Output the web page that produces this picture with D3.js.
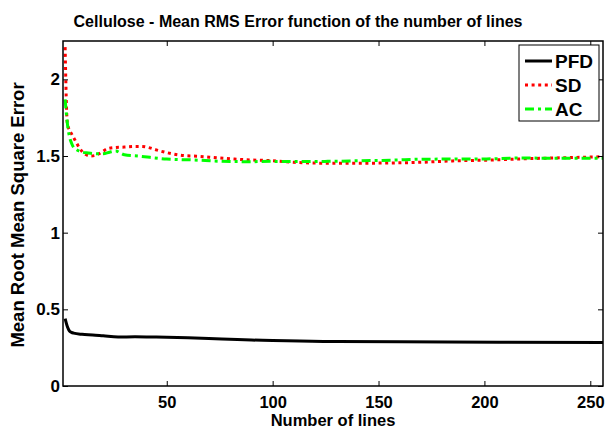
<!DOCTYPE html>
<html>
<head>
<meta charset="utf-8">
<script src="https://cdn.jsdelivr.net/npm/d3@7/dist/d3.min.js"></script>
<style>
  html, body { margin: 0; padding: 0; background: #fff; }
  svg text { font-family: "Liberation Sans", Arial, sans-serif; font-weight: bold; fill: #000; }
</style>
</head>
<body>
<svg id="chart" width="607" height="430"></svg>
<script>
// ---- data ----
const pfdX = [2, 3, 4, 5, 6, 10, 15, 20, 27, 35, 45, 60, 76, 90, 100, 124, 160, 207, 256];
const pfdY = [0.44, 0.39, 0.36, 0.35, 0.345, 0.337, 0.333, 0.327, 0.319, 0.321, 0.319, 0.314, 0.306, 0.300, 0.296, 0.290, 0.288, 0.285, 0.283];

const sdX = [2, 3, 4, 5, 6, 7, 8, 10, 12, 14, 16, 18, 20, 22, 26, 30, 35, 38, 42, 45, 50, 58, 64, 74, 82, 90, 99, 110, 125, 141, 157, 170, 185, 201, 217, 233, 256];
const sdY = [2.21, 1.72, 1.67, 1.645, 1.62, 1.595, 1.57, 1.53, 1.508, 1.500, 1.503, 1.515, 1.532, 1.548, 1.556, 1.558, 1.562, 1.562, 1.553, 1.540, 1.522, 1.503, 1.499, 1.488, 1.480, 1.474, 1.470, 1.459, 1.453, 1.453, 1.455, 1.459, 1.468, 1.473, 1.481, 1.487, 1.495];

const acX = [2, 3, 4, 5, 6, 7, 10, 13, 16, 18, 20, 23, 26, 28, 30, 37, 50, 63, 75, 89, 99, 110, 126, 141, 157, 170, 201, 217, 233, 256];
const acY = [1.87, 1.72, 1.63, 1.585, 1.556, 1.545, 1.525, 1.520, 1.515, 1.514, 1.515, 1.525, 1.532, 1.520, 1.508, 1.499, 1.480, 1.474, 1.466, 1.463, 1.465, 1.464, 1.465, 1.469, 1.473, 1.479, 1.481, 1.487, 1.485, 1.486];

const xTicks = [50, 100, 150, 200, 250];
const yTicks = [0, 0.5, 1, 1.5, 2];
const seriesNames = ["PFD", "SD", "AC"];
const titleText = "Cellulose - Mean RMS Error function of the number of lines";
const xLabelText = "Number of lines";
const yLabelText = "Mean Root Mean Square Error";

// ---- layout ----
const L = 63, R = 603, T = 41, B = 386;
const svg = d3.select("#chart");
const x = d3.scaleLinear().domain([1, 256]).range([L, R]);
const y = d3.scaleLinear().domain([0, 2.25]).range([B, T]);

svg.append("defs").append("clipPath").attr("id", "clip")
  .append("rect").attr("x", L).attr("y", T).attr("width", R - L).attr("height", B - T);

const styles = [
  { color: "#000000", dash: null, width: 3 },
  { color: "#ff0000", dash: "3,3.6", width: 3 },
  { color: "#00ff00", dash: "9,4,3,4", width: 3 }
];
const data = [
  pfdX.map((d, i) => [d, pfdY[i]]),
  sdX.map((d, i) => [d, sdY[i]]),
  acX.map((d, i) => [d, acY[i]])
];

const line = d3.line().x(d => x(d[0])).y(d => y(d[1])).curve(d3.curveMonotoneX);
const g = svg.append("g").attr("clip-path", "url(#clip)");
[0, 1, 2].forEach(i => {
  g.append("path").datum(data[i])
    .attr("fill", "none")
    .attr("stroke", styles[i].color)
    .attr("stroke-width", styles[i].width)
    .attr("stroke-dasharray", styles[i].dash)
    .attr("d", line);
});

// axes
const tickLen = 5;
const fmtY = d => d === 0 ? "0" : String(d);
const xAxisB = d3.axisBottom(x).tickValues(xTicks).tickSize(-tickLen).tickFormat(d3.format("d"));
const xAxisT = d3.axisTop(x).tickValues(xTicks).tickSize(-tickLen).tickFormat("");
const yAxisL = d3.axisLeft(y).tickValues(yTicks).tickSize(-tickLen).tickPadding(3).tickFormat(fmtY);
const yAxisR = d3.axisRight(y).tickValues(yTicks).tickSize(-tickLen).tickFormat("");

function styleAxis(sel) {
  sel.select(".domain").remove();
  sel.selectAll(".tick line").attr("stroke", "#000").attr("stroke-width", 1);
  sel.selectAll(".tick text").style("font-size", "17px").attr("fill", "#000");
}
svg.append("g").attr("transform", `translate(0,${B})`).call(xAxisB).call(styleAxis)
  .selectAll(".tick text").attr("y", 21.5).attr("dy", "0").style("font-size", "16.5px");
svg.append("g").attr("transform", `translate(0,${T})`).call(xAxisT).call(styleAxis);
svg.append("g").attr("transform", `translate(${L},0)`).call(yAxisL).call(styleAxis);
svg.append("g").attr("transform", `translate(${R},0)`).call(yAxisR).call(styleAxis);

svg.append("rect").attr("x", L).attr("y", T).attr("width", R - L).attr("height", B - T)
  .attr("fill", "none").attr("stroke", "#000").attr("stroke-width", 1.5);

// titles
svg.append("text").attr("x", 298).attr("y", 27).attr("text-anchor", "middle")
  .style("font-size", "16px").text(titleText);
svg.append("text").attr("x", (L + R) / 2).attr("y", 426).attr("text-anchor", "middle")
  .style("font-size", "16.5px").text(xLabelText);
svg.append("text").attr("transform", `translate(24,${(T + B) / 2 + 1.5}) rotate(-90)`).attr("text-anchor", "middle")
  .style("font-size", "18.5px").text(yLabelText);

// legend
const lg = svg.append("g");
lg.append("rect").attr("x", 519).attr("y", 45).attr("width", 80).attr("height", 76)
  .attr("fill", "#fff").attr("stroke", "#000").attr("stroke-width", 1);
seriesNames.forEach((name, i) => {
  const yy = 61 + i * 24;
  lg.append("line").attr("x1", 525).attr("x2", 552).attr("y1", yy).attr("y2", yy)
    .attr("stroke", styles[i].color).attr("stroke-width", 3)
    .attr("stroke-dasharray", styles[i].dash);
  lg.append("text").attr("x", 555).attr("y", yy).attr("dy", "0.36em")
    .style("font-size", "19px").text(name);
});
</script>
</body>
</html>
